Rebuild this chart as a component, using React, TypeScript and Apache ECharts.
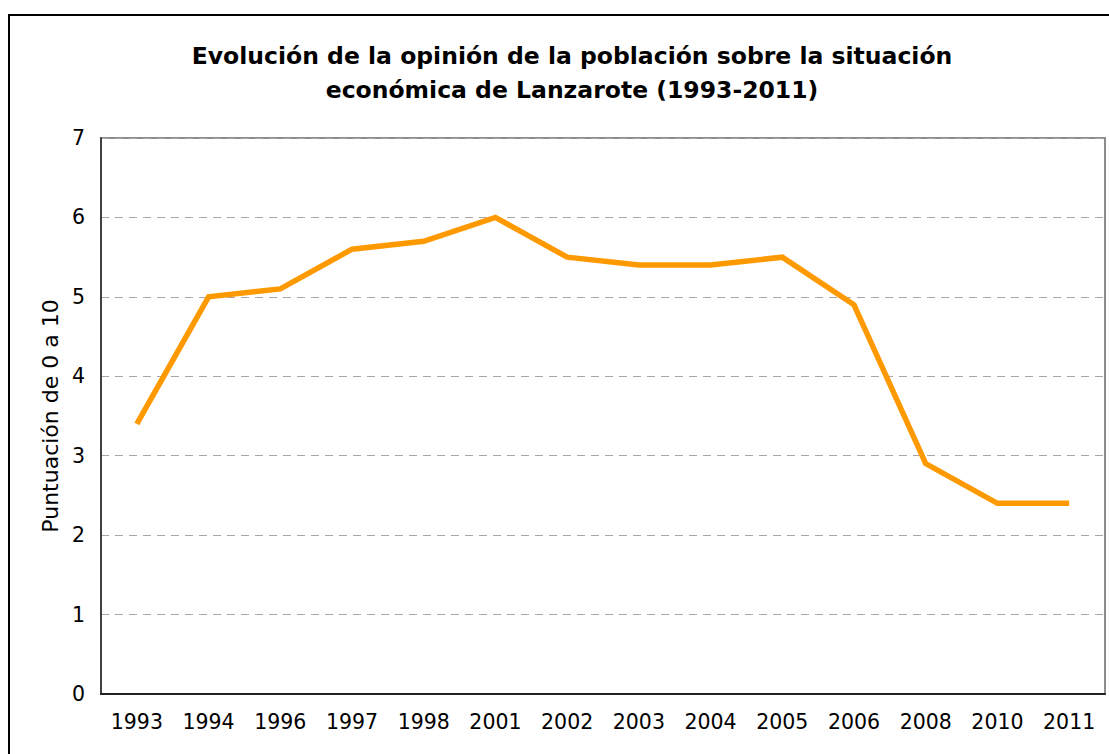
import React, { useEffect, useRef } from "react";
import * as echarts from "echarts";

const years = ["1993", "1994", "1996", "1997", "1998", "2001", "2002", "2003", "2004", "2005", "2006", "2008", "2010", "2011"];
const scores = [3.4, 5.0, 5.1, 5.6, 5.7, 6.0, 5.5, 5.4, 5.4, 5.5, 4.9, 2.9, 2.4, 2.4];
const titleText = "Evolución de la opinión de la población sobre la situación\neconómica de Lanzarote (1993-2011)";
const yAxisName = "Puntuación de 0 a 10";

export default function App() {
  const ref = useRef<HTMLDivElement>(null);
  useEffect(() => {
    if (!ref.current) return;
    const chart = echarts.init(ref.current, null, { renderer: "svg" });
    const font = "'DejaVu Sans', Verdana, sans-serif";
    chart.setOption({
      animation: false,
      backgroundColor: "#ffffff",
      title: {
        text: titleText,
        left: 567,
        textAlign: "center",
        top: 34,
        textStyle: { fontFamily: font, fontSize: 23.5, fontWeight: "bold", color: "#000", lineHeight: 34 },
      },
      graphic: [
        {
          type: "rect",
          shape: { x: 9, y: 15, width: 1200, height: 800 },
          style: { fill: "none", stroke: "#000", lineWidth: 2 },
          silent: true,
          z: 100,
        },
      ],
      grid: {
        left: 101,
        top: 138,
        right: 4,
        bottom: 60,
        show: true,
        borderColor: "#8c8c8c",
        borderWidth: 2,
        backgroundColor: "transparent",
      },
      xAxis: {
        type: "category",
        data: years,
        boundaryGap: true,
        axisLine: { show: true, lineStyle: { color: "#222", width: 2 } },
        axisTick: { show: false },
        axisLabel: { fontFamily: font, fontSize: 20.5, color: "#000", margin: 17 },
        splitLine: { show: false },
      },
      yAxis: {
        type: "value",
        min: 0,
        max: 7,
        interval: 1,
        name: yAxisName,
        nameLocation: "middle",
        nameGap: 35,
        nameTextStyle: { fontFamily: font, fontSize: 22, color: "#000" },
        axisLine: { show: true, lineStyle: { color: "#404040", width: 2 } },
        axisTick: { show: false },
        axisLabel: { fontFamily: font, fontSize: 20.5, color: "#000", margin: 16 },
        splitLine: { show: true, lineStyle: { color: "#a6a6a6", type: [8, 6], width: 1 } },
      },
      series: [
        {
          type: "line",
          data: scores,
          symbol: "none",
          lineStyle: { color: "#ff9900", width: 5.5, join: "miter" },
          itemStyle: { color: "#ff9900" },
        },
      ],
    });
    return () => chart.dispose();
  }, []);
  return <div ref={ref} style={{ position: "fixed", left: 0, top: 0, width: 1109, height: 754 }} />;
}
